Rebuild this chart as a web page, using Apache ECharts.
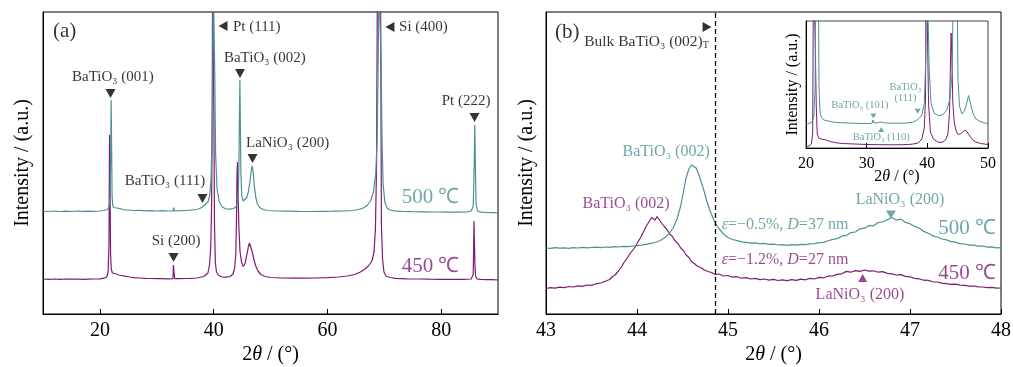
<!DOCTYPE html>
<html>
<head>
<meta charset="utf-8">
<script src="https://cdn.jsdelivr.net/npm/echarts@6/dist/echarts.min.js"></script>
<style>
html, body { margin: 0; padding: 0; background: #fff; }
#chart { width: 1013px; height: 367px; }
</style>
</head>
<body>
<div id="chart"></div>
<script>
const teal = '#4b9096'
const purple = '#7d1b73'
const serif = "'Liberation Serif', 'Times New Roman', serif"

// (a) full scan 2θ = 10-90, intensity in arbitrary units (offset curves)
const a500 = [[10,103],[11,102.5],[12,103],[13,102.5],[14,102.8],[15,102.5],[16,103],[17,102.6],[18,102.8],[19,102.7],[20,103],[20.8,103.5],[21.3,104.5],[21.6,107],[21.8,118],[21.9,160],[21.98,214],[22.06,170],[22.15,118],[22.25,109],[22.4,106.5],[22.7,105.5],[23,106],[23.3,105],[23.7,105.2],[24.2,104.2],[25,104],[26,103.5],[27,103.6],[28,103.2],[29,103.4],[30,103],[31,103.3],[32,103],[32.9,103.2],[33.0,106.5],[33.1,103.2],[34,103.3],[35,103.5],[36,103.8],[37,104.5],[37.6,105.5],[38,107],[38.4,109],[38.7,110],[39,112],[39.3,118],[39.55,135],[39.75,180],[39.85,250],[39.93,340],[40.1,340],[40.2,240],[40.35,160],[40.6,125],[41,112],[41.5,107],[42.2,105],[42.9,104.8],[43.5,105.5],[43.9,107],[44.2,111],[44.35,122],[44.45,150],[44.55,205],[44.62,234],[44.7,190],[44.8,140],[44.95,118],[45.2,113],[45.5,113],[45.8,116],[46.1,122],[46.4,133],[46.65,145],[46.8,148],[46.95,142],[47.15,128],[47.4,117],[47.7,110],[48.1,106.5],[48.7,104.5],[49.5,103.5],[51,103],[53,102.8],[55,102.6],[57,102.5],[59,102.7],[61,102.8],[63,103],[64.5,103.5],[65.5,104.5],[66.3,106],[67,108.5],[67.6,113],[68.1,122],[68.5,140],[68.75,175],[68.95,260],[69.05,340],[69.3,340],[69.45,250],[69.6,175],[69.8,130],[70.1,112],[70.5,106],[71,104],[71.8,103.2],[73,102.7],[75,102.4],[77,102.2],[79,102],[81,101.8],[83,101.8],[84.5,102],[85.3,103],[85.65,108],[85.82,150],[85.92,189],[86.02,150],[86.15,110],[86.4,103],[87,101.8],[88,101.5],[89,101.3],[90,101]]
const a450 = [[10,35],[11,34.6],[12,35],[13,34.7],[14,35],[15,34.8],[16,35],[17,34.6],[18,34.9],[19,35],[20,35.2],[20.7,35.8],[21.2,37],[21.45,42],[21.6,70],[21.7,179],[21.78,130],[21.88,60],[22.0,45],[22.2,41],[22.5,40.5],[22.9,40],[23.3,39],[23.8,38.5],[24.4,37.8],[25.2,37],[26,36.3],[27,36],[28,35.6],[29,35.5],[30,35.3],[31,35.4],[32,35.2],[32.85,35.3],[32.93,49],[33.07,49],[33.15,35.3],[34,35.4],[35,35.5],[36,35.6],[37,36],[37.8,37],[38.3,37.5],[38.6,38],[39.0,41],[39.3,50],[39.5,68],[39.65,110],[39.75,200],[39.82,340],[39.98,340],[40.05,200],[40.15,90],[40.3,52],[40.5,42],[40.9,38.5],[41.5,37],[42.2,36.8],[42.9,37.5],[43.4,40],[43.7,46],[43.9,60],[44.02,95],[44.12,140],[44.2,152],[44.3,120],[44.45,85],[44.65,62],[44.9,52],[45.2,47.5],[45.5,50],[45.8,58],[46.1,67],[46.3,71],[46.55,69],[46.8,62],[47.1,54],[47.4,48],[47.8,43],[48.3,39.5],[49,37.5],[50,36.5],[52,36],[54,35.8],[56,35.8],[58,36],[60,36.3],[62,37],[63.5,38],[64.8,39.5],[65.8,42],[66.6,45],[67.2,48],[67.6,51],[67.9,54],[68.2,62],[68.45,85],[68.65,150],[68.8,340],[69.35,340],[69.5,90],[69.7,55],[69.95,42],[70.3,38],[71,36.5],[72,35.7],[74,35.2],[76,35],[78,34.8],[80,34.7],[82,34.6],[84,34.6],[85.3,35],[85.65,40],[85.78,93],[85.86,70],[85.94,50],[86.05,38],[86.3,35.2],[87,34.6],[88,34.4],[89,34.3],[90,34]]
const aTicks = [20, 40, 60, 80]

// (b) detail 2θ = 43-48
const b500 = [[43.00,66.0],[43.05,65.6],[43.10,66.3],[43.15,65.9],[43.20,66.2],[43.25,65.7],[43.30,66.4],[43.35,66.0],[43.40,66.6],[43.45,66.1],[43.50,66.5],[43.55,66.9],[43.60,66.4],[43.65,67.0],[43.70,66.7],[43.75,67.3],[43.80,67.0],[43.85,67.6],[43.90,67.4],[43.95,68.0],[44.00,68.3],[44.05,68.9],[44.10,69.6],[44.15,70.6],[44.20,71.5],[44.25,73.2],[44.30,76.0],[44.35,80.0],[44.40,86.5],[44.44,95],[44.48,108],[44.51,122],[44.54,136],[44.57,145],[44.60,149],[44.62,150.5],[44.65,146],[44.68,139],[44.71,131],[44.74,122],[44.77,112],[44.80,104],[44.83,97],[44.86,91],[44.90,85.5],[44.95,80],[45.00,76.5],[45.05,74.5],[45.10,73.4],[45.15,72.2],[45.20,71.6],[45.25,70.8],[45.30,71.2],[45.35,70.2],[45.40,70.6],[45.45,69.6],[45.50,69.9],[45.55,69.0],[45.60,69.4],[45.65,68.7],[45.70,69.3],[45.75,68.9],[45.80,69.6],[45.85,69.4],[45.90,70.2],[45.95,70.3],[46.00,71.4],[46.05,71.6],[46.10,73.2],[46.15,74.6],[46.20,75.4],[46.25,77.8],[46.30,78.6],[46.35,81.4],[46.40,82.0],[46.45,85.2],[46.50,85.8],[46.55,88.6],[46.60,88.2],[46.65,91.4],[46.70,92.0],[46.75,94.2],[46.80,96.5],[46.85,93.8],[46.90,95.0],[46.95,91.6],[47.00,90.2],[47.05,87.6],[47.10,86.0],[47.15,82.6],[47.20,80.8],[47.25,78.2],[47.30,77.0],[47.35,75.0],[47.40,74.2],[47.45,72.4],[47.50,71.8],[47.55,70.4],[47.60,70.0],[47.65,68.8],[47.70,68.9],[47.75,67.8],[47.80,68.0],[47.85,66.9],[47.90,67.2],[47.95,66.2],[48.00,66.4]]
const b450 = [[43.00,25.5],[43.05,26.3],[43.10,25.8],[43.15,26.9],[43.20,26.4],[43.25,27.5],[43.30,27.0],[43.35,28.2],[43.40,27.6],[43.45,29.0],[43.50,28.6],[43.55,30.2],[43.60,31.0],[43.65,32.8],[43.70,34.5],[43.73,37.5],[43.76,39.0],[43.80,43.5],[43.83,47.0],[43.86,52.0],[43.89,55.5],[43.92,60.0],[43.95,63.5],[43.98,67.0],[44.01,72.0],[44.04,76.5],[44.07,82.0],[44.10,87.5],[44.13,92.0],[44.16,96.5],[44.18,95.0],[44.20,94.0],[44.22,97.5],[44.24,96.0],[44.27,91.0],[44.30,87.5],[44.33,84.5],[44.36,80.0],[44.39,77.5],[44.42,73.0],[44.45,70.5],[44.48,66.0],[44.51,63.5],[44.54,59.0],[44.57,56.5],[44.60,52.5],[44.63,50.5],[44.66,48.0],[44.70,46.5],[44.74,44.0],[44.78,42.5],[44.82,41.5],[44.86,39.5],[44.90,40.0],[44.95,38.0],[45.00,38.5],[45.05,36.8],[45.10,37.3],[45.15,35.8],[45.20,36.4],[45.25,35.0],[45.30,35.6],[45.35,34.3],[45.40,35.0],[45.45,33.8],[45.50,34.6],[45.55,33.5],[45.60,34.2],[45.65,33.4],[45.70,34.4],[45.75,33.6],[45.80,34.8],[45.85,34.2],[45.90,35.6],[45.95,35.0],[46.00,36.6],[46.05,36.2],[46.10,37.8],[46.15,38.0],[46.20,39.6],[46.25,40.2],[46.30,42.6],[46.35,41.8],[46.40,43.4],[46.45,42.6],[46.50,44.0],[46.55,42.8],[46.60,43.2],[46.65,41.8],[46.70,42.4],[46.75,40.6],[46.80,40.2],[46.85,39.0],[46.90,39.4],[46.95,37.6],[47.00,37.2],[47.05,35.6],[47.10,35.2],[47.15,33.8],[47.20,33.6],[47.25,32.2],[47.30,32.0],[47.35,30.8],[47.40,30.4],[47.45,29.6],[47.50,29.8],[47.55,28.8],[47.60,28.6],[47.65,27.8],[47.70,28.0],[47.75,27.2],[47.80,27.0],[47.85,26.4],[47.90,26.6],[47.95,25.9],[48.00,26.0]]
const bulkPeak = 44.86

// inset 2θ = 20-50
const i500 = [[20,24],[20.5,24.5],[21,26],[21.3,32],[21.5,60],[21.65,200],[22.0,200],[22.15,60],[22.3,36],[22.6,30],[23,28],[24,26.5],[25,25.5],[27,25],[29,24.6],[30.5,24.5],[30.9,25],[31.05,28],[31.2,25],[31.8,25.2],[32.3,26],[32.8,25.2],[34,24.8],[36,24.8],[37.5,25.5],[38.2,27.5],[38.7,30],[39.1,33],[39.5,45],[39.75,90],[39.9,200],[40.15,200],[40.3,80],[40.6,45],[41.1,35],[41.8,32.5],[42.5,33],[43.2,38],[43.7,48],[44.1,75],[44.35,200],[44.85,200],[45.05,70],[45.3,42],[45.7,34],[46.1,37],[46.5,45],[46.8,52.5],[47.1,45],[47.5,35],[48,29],[48.7,26.5],[49.5,25],[50,24.5]]
const i450 = [[20,1.5],[20.5,2],[20.9,4],[21.1,15],[21.25,200],[21.55,200],[21.7,40],[21.85,14],[22.1,10],[22.5,9],[23,8.5],[23.5,7.5],[24,6.5],[25,5.2],[26,4.5],[28,4],[30,3.5],[32,3.3],[34,3.2],[36,3.3],[37.5,3.8],[38.5,5],[39.1,9],[39.5,20],[39.7,50],[39.8,200],[40.05,200],[40.2,45],[40.5,16],[41,9],[41.7,6],[42.4,5.5],[43,8],[43.4,14],[43.65,35],[43.8,80],[43.92,115],[44.05,90],[44.2,45],[44.45,25],[44.75,17],[45.1,13.5],[45.5,14],[45.9,16.5],[46.3,18],[46.6,16],[47,12],[47.5,8],[48,6],[48.8,4.5],[50,3.5]]

// peak markers and labels (data coordinates)
const aDown = [[21.87,220.5],[38.04,115.5],[44.64,240.5],[46.84,155.5],[85.87,196.5],[32.95,56.5]]
const aLeft = [[41.65,288],[71.0,287]]
const aLabels = [['BaTiO₃ (001)',22.3,237],['BaTiO₃ (111)',31.45,132.5],['BaTiO₃ (002)',49.0,255.5],['LaNiO₃ (200)',53.0,170.5],['Pt (222)',84.4,213],['Si (200)',33.4,73]]
const aLeftLabels = [['Pt (111)',43.4,287],['Si (400)',72.6,287]]
const aTitle = [['(a)',11.76,283]]
const aT500 = [['500 ℃',73.07,116.5]]
const aT450 = [['450 ℃',73.07,47.3]]

const bTitle = [['(b)',43.1,281.5]]
const bBulk = [['Bulk BaTiO₃ (002){sub|T}',43.42,272.5]]
const bRight = [[44.77,287]]
const bTealLabels = [['BaTiO₃ (002)',44.32,162],['LaNiO₃ (200)',46.89,114]]
const bPurpleLabels = [['BaTiO₃ (002)',43.88,110.5],['LaNiO₃ (200)',46.45,19.5]]
const bTealNote = [['{i|ε}=−0.5%, {i|D}=37 nm',44.93,89.5]]
const bPurpleNote = [['{i|ε}=−1.2%, {i|D}=27 nm',44.93,54.5]]
const bT500 = [['500 ℃',47.31,85.5]]
const bT450 = [['450 ℃',47.31,40.5]]
const bTealDown = [[46.79,99.5]]
const bPurpleUp = [[46.48,36]]

const iLabels = [['BaTiO₃ (101)',28.9,42.5],['BaTiO₃\n(111)',36.4,55.5],['BaTiO₃ (110)',32.4,11]]
const iDown = [[31.1,32],[38.4,36.8]]
const iUp = [[32.4,18.5]]

const chart = echarts.init(document.getElementById('chart'))

function txt(list, color, size, align) {
  return list.map(([t, x, y]) => ({
    value: [x, y],
    label: {
      show: true, position: 'inside', formatter: t, align: align || 'center', verticalAlign: 'middle',
      color: color, fontSize: size, fontFamily: serif, lineHeight: Math.round(size * 1.05),
      rich: {
        i: { fontStyle: 'italic', fontSize: size, fontFamily: serif, color: color },
        sub: { fontSize: Math.round(size * 0.62), fontFamily: serif, color: color, padding: [Math.round(size * 0.5), 0, 0, 0] }
      }
    }
  }))
}
function textSeries(ax, list, color, size, align) {
  return { type: 'scatter', xAxisIndex: ax, yAxisIndex: ax, symbolSize: 0, silent: true, z: 10,
    emphasis: { disabled: true }, data: txt(list, color, size, align) }
}
function triSeries(ax, pts, color, size, rot) {
  return { type: 'scatter', xAxisIndex: ax, yAxisIndex: ax, symbol: 'triangle', symbolSize: size,
    symbolRotate: rot, silent: true, z: 9, emphasis: { disabled: true }, itemStyle: { color: color }, data: pts }
}
function lineSeries(ax, data, color, width) {
  return { type: 'line', xAxisIndex: ax, yAxisIndex: ax, data: data, symbol: 'none', clip: true,
    lineStyle: { color: color, width: width }, itemStyle: { color: color }, silent: true, z: 3 }
}
function xAxisOf(idx, min, max, opts, fs, gap, margin) {
  return Object.assign({
    gridIndex: idx, type: 'value', min: min, max: max,
    axisLine: { show: true, lineStyle: { color: '#000', width: 1 } },
    axisTick: { inside: true, length: 5, lineStyle: { color: '#000' } },
    axisLabel: { color: '#000', fontSize: fs, fontFamily: serif, margin: margin },
    splitLine: { show: false },
    name: '2{i|θ} / (°)', nameLocation: 'middle', nameGap: gap, nameMoveOverlap: false,
    nameTextStyle: { color: '#000', fontSize: fs, fontFamily: serif,
      rich: { i: { fontStyle: 'italic', fontSize: fs, fontFamily: serif, color: '#000' } } }
  }, opts)
}
function yAxisOf(idx, min, max, fs, gap) {
  return {
    gridIndex: idx, type: 'value', min: min, max: max,
    axisLine: { show: true, lineStyle: { color: '#000', width: 1 } },
    axisTick: { show: false }, axisLabel: { show: false }, splitLine: { show: false },
    name: 'Intensity / (a.u.)', nameLocation: 'middle', nameGap: gap, nameMoveOverlap: false,
    nameTextStyle: { color: '#000', fontSize: fs, fontFamily: serif }
  }
}

const option = {
  animation: false,
  backgroundColor: '#fff',
  grid: [
    { left: 43, top: 12, width: 455, height: 302, show: true, borderColor: '#000', borderWidth: 1, outerBoundsMode: 'none' },
    { left: 546, top: 12, width: 455, height: 302, show: true, borderColor: '#000', borderWidth: 1, outerBoundsMode: 'none' },
    { left: 806, top: 21, width: 182, height: 127, show: true, borderColor: '#444', borderWidth: 1, backgroundColor: '#fff', outerBoundsMode: 'none' }
  ],
  xAxis: [
    xAxisOf(0, 10, 90, { axisTick: { inside: true, length: 5, customValues: aTicks, lineStyle: { color: '#000' } },
      axisLabel: { customValues: aTicks, color: '#000', fontSize: 20, fontFamily: serif, margin: 7 } }, 20, 31, 7),
    xAxisOf(1, 43, 48, { interval: 1 }, 20, 31, 7),
    xAxisOf(2, 20, 50, { interval: 10 }, 16, 21, 8)
  ],
  yAxis: [
    yAxisOf(0, 0, 302, 20, 10),
    yAxisOf(1, 0, 302, 20, 9),
    yAxisOf(2, 0, 127, 16, 5)
  ],
  series: [
    lineSeries(0, a450, purple, 1.2),
    lineSeries(0, a500, teal, 1.2),
    lineSeries(1, b450, purple, 1.2),
    Object.assign(lineSeries(1, b500, teal, 1.2), {
      markLine: { silent: true, symbol: ['none', 'none'], label: { show: false },
        lineStyle: { color: '#000', type: [5, 3], width: 1.3 }, data: [{ xAxis: bulkPeak }] }
    }),
    lineSeries(2, i450, purple, 1),
    lineSeries(2, i500, teal, 1),

    triSeries(0, aDown, '#000', [10, 9], 180),
    triSeries(0, aLeft, '#000', [10, 9], 90),
    textSeries(0, aLabels, '#000', 15),
    textSeries(0, aLeftLabels, '#000', 15, 'left'),
    textSeries(0, aTitle, '#000', 21, 'left'),
    textSeries(0, aT500, teal, 21, 'left'),
    textSeries(0, aT450, purple, 21, 'left'),

    triSeries(1, bRight, '#000', [10, 9], -90),
    triSeries(1, bTealDown, teal, [10, 8], 180),
    triSeries(1, bPurpleUp, purple, [9, 8], 0),
    textSeries(1, bTitle, '#000', 21, 'left'),
    textSeries(1, bBulk, '#000', 15.5, 'left'),
    textSeries(1, bTealLabels, teal, 16),
    textSeries(1, bPurpleLabels, purple, 16),
    textSeries(1, bTealNote, teal, 16, 'left'),
    textSeries(1, bPurpleNote, purple, 16, 'left'),
    textSeries(1, bT500, teal, 21, 'left'),
    textSeries(1, bT450, purple, 21, 'left'),

    triSeries(2, iDown, teal, [6, 5], 180),
    triSeries(2, iUp, teal, [6, 5], 0),
    textSeries(2, iLabels, teal, 10.5)
  ]
}
chart.setOption(option)
</script>
</body>
</html>
